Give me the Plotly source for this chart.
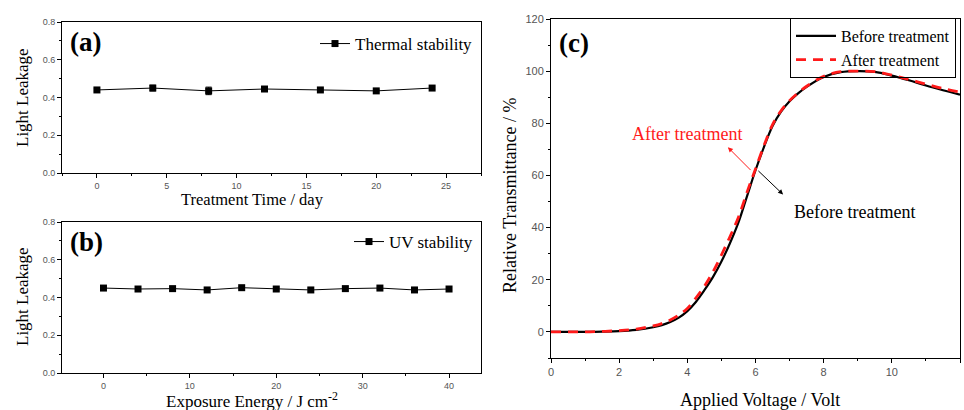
import plotly.graph_objects as go

# Panel (a): thermal stability
time_days = [0, 4, 8, 12, 16, 20, 24]
thermal_leak = [0.44, 0.45, 0.435, 0.445, 0.44, 0.435, 0.45]
thermal_err = [0.006, 0.015, 0.02, 0.006, 0.006, 0.006, 0.006]

# Panel (b): UV stability
energy = [0, 4, 8, 12, 16, 20, 24, 28, 32, 36, 40]
uv_leak = [0.45, 0.445, 0.447, 0.44, 0.452, 0.445, 0.44, 0.447, 0.45, 0.44, 0.445]
uv_err = [0.006, 0.01, 0.01, 0.006, 0.006, 0.01, 0.01, 0.012, 0.006, 0.006, 0.01]

# Panel (c): V-T curves
voltage = [0, 0.5, 1, 1.5, 2, 2.5, 3, 3.25, 3.5, 3.75, 4, 4.25, 4.5, 4.75, 5, 5.25, 5.5,
           5.75, 6, 6.25, 6.5, 6.75, 7, 7.25, 7.5, 8, 8.5, 9, 9.5, 10, 10.5, 11, 11.5, 12]
before = [0, 0, 0, 0.1, 0.3, 0.8, 1.8, 2.6, 3.8, 5.5, 8, 11.5, 16, 21, 27, 34, 42,
          52, 62, 71, 79, 84.5, 88.5, 91.5, 94, 97.8, 99.6, 100, 99.7, 98.3, 96.5, 94.5, 92.7, 91]
after = [0, 0, 0, 0.2, 0.5, 1.1, 2.3, 3.2, 4.6, 6.5, 9, 13, 17.5, 23, 29.5, 36.5, 44,
         53.5, 62.5, 71.5, 79.5, 84.8, 88.7, 91.7, 94.2, 98, 99.8, 100, 99.8, 98.5, 96.8, 95, 93.3, 92]

SERIF = "Liberation Serif"
SANS = "Liberation Sans"

fig = go.Figure()

fig.add_trace(go.Scatter(
    x=time_days, y=thermal_leak, mode="lines+markers", name="Thermal stability",
    line=dict(color="black", width=1), marker=dict(symbol="square", size=7, color="black"),
    error_y=dict(type="data", array=thermal_err, color="black", thickness=1, width=3),
    xaxis="x", yaxis="y", legend="legend"))

fig.add_trace(go.Scatter(
    x=energy, y=uv_leak, mode="lines+markers", name="UV stability",
    line=dict(color="black", width=1), marker=dict(symbol="square", size=7, color="black"),
    error_y=dict(type="data", array=uv_err, color="black", thickness=1, width=3),
    xaxis="x2", yaxis="y2", legend="legend2"))

fig.add_trace(go.Scatter(
    x=voltage, y=before, mode="lines", name="Before treatment", line_shape="spline",
    line=dict(color="black", width=2.2), xaxis="x3", yaxis="y3", legend="legend3"))
fig.add_trace(go.Scatter(
    x=voltage, y=after, mode="lines", name="After treatment", line_shape="spline",
    line=dict(color="#ff1a1a", width=2.8, dash="10px,7px"), xaxis="x3", yaxis="y3", legend="legend3"))

W, H = 964, 410
def px(xp): return xp / W
def py(yp): return 1 - yp / H

def axis_common(size):
    return dict(showline=True, linecolor="black", linewidth=1, mirror=True,
                ticks="outside", ticklen=4, tickcolor="black", showgrid=False, zeroline=False,
                tickfont=dict(family=SANS, size=size, color="#555"))

minor = lambda d: dict(dtick=d, ticks="outside", ticklen=2, tickcolor="black")

fig.update_layout(
    width=W, height=H, margin=dict(l=0, r=0, t=0, b=0, autoexpand=False),
    paper_bgcolor="white", plot_bgcolor="white", showlegend=True,
    xaxis=dict(domain=[px(62), px(481)], anchor="y", range=[-2.5, 27.5], dtick=5,
               minor=minor(2.5), **axis_common(9)),
    yaxis=dict(domain=[py(173), py(22)], anchor="x", range=[0, 0.8], dtick=0.2, tickformat=".1f",
               minor=minor(0.1), **axis_common(9)),
    xaxis2=dict(domain=[px(62), px(481)], anchor="y2", range=[-4.8, 43.7], dtick=10,
                minor=minor(5), **axis_common(9)),
    yaxis2=dict(domain=[py(373), py(222)], anchor="x2", range=[0, 0.8], dtick=0.2, tickformat=".1f",
                minor=minor(0.1), **axis_common(9)),
    xaxis3=dict(domain=[px(551), px(960)], anchor="y3", range=[0, 12], dtick=2,
                minor=minor(1), **axis_common(11)),
    yaxis3=dict(domain=[py(358), py(19)], anchor="x3", range=[-10, 120], dtick=20,
                minor=minor(10), **axis_common(11)),
    legend=dict(x=px(478), y=py(26), xanchor="right", yanchor="top", bgcolor="rgba(0,0,0,0)",
                font=dict(family=SERIF, size=17, color="black"), itemwidth=30),
    legend2=dict(x=px(478), y=py(224), xanchor="right", yanchor="top", bgcolor="rgba(0,0,0,0)",
                 font=dict(family=SERIF, size=17, color="black"), itemwidth=30),
    legend3=dict(x=px(956), y=py(18), xanchor="right", yanchor="top", bgcolor="rgba(255,255,255,0)",
                 bordercolor="black", borderwidth=1, tracegroupgap=0,
                 font=dict(family=SERIF, size=16, color="black"), itemwidth=40),
)

ann = []
def txt(x, y, s, size=17, color="black", angle=0, bold=False, xanchor="center"):
    ann.append(dict(x=px(x), y=py(y), xref="paper", yref="paper", text=f"<b>{s}</b>" if bold else s,
                    showarrow=False, textangle=angle, xanchor=xanchor, yanchor="middle",
                    font=dict(family=SERIF, size=size, color=color)))

txt(68, 42, "(a)", size=27, bold=True, xanchor="left")
txt(68, 242, "(b)", size=27, bold=True, xanchor="left")
txt(557, 43, "(c)", size=27, bold=True, xanchor="left")
txt(22, 98, "Light Leakage", size=17, angle=-90)
txt(22, 297, "Light Leakage", size=17, angle=-90)
txt(252, 199, "Treatment Time / day", size=16.5)
txt(252, 400, "Exposure Energy / J cm<sup>-2</sup>", size=17)
txt(760, 400, "Applied Voltage / Volt", size=18)
txt(510, 196, "Relative Transmittance / %", size=18, angle=-90)

# curve annotations in data coordinates of panel (c)
ann.append(dict(x=4.0, y=75.8, xref="x3", yref="y3", text="After treatment", showarrow=False,
                font=dict(family=SERIF, size=18, color="#ff1a1a")))
ann.append(dict(x=8.9, y=45.8, xref="x3", yref="y3", text="Before treatment", showarrow=False,
                font=dict(family=SERIF, size=18, color="black")))
ann.append(dict(x=5.19, y=70.8, xref="x3", yref="y3", ax=5.9, ay=61.5, axref="x3", ayref="y3",
                text="", showarrow=True, arrowhead=2, arrowsize=1, arrowwidth=1, arrowcolor="#ff1a1a"))
ann.append(dict(x=6.81, y=52.7, xref="x3", yref="y3", ax=6.04, ay=62.3, axref="x3", ayref="y3",
                text="", showarrow=True, arrowhead=2, arrowsize=1, arrowwidth=1, arrowcolor="black"))
fig.update_layout(annotations=ann)

fig.write_html("out.html", config={"displayModeBar": False},
               post_script="document.body.style.margin='0';document.body.style.overflow='hidden';")
